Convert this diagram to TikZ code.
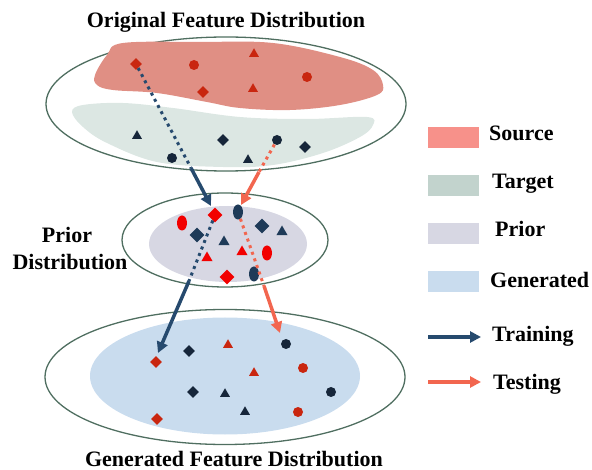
\documentclass[tikz,border=0pt]{standalone}
\usepackage{fontspec}
\setmainfont{Liberation Serif}
\usetikzlibrary{shapes.geometric,arrows.meta}
\definecolor{rimgreen}{HTML}{4F6E60}
\definecolor{srcfill}{HTML}{E08F84}
\definecolor{tgtfill}{HTML}{DCE7E3}
\definecolor{prifill}{HTML}{D7D7E3}
\definecolor{genfill}{HTML}{C9DCEE}
\definecolor{keysrc}{HTML}{F7918A}
\definecolor{keytgt}{HTML}{C2D3CD}
\definecolor{symred}{HTML}{C9260F}
\definecolor{symdark}{HTML}{16263A}
\definecolor{prired}{HTML}{F20000}
\definecolor{pridark}{HTML}{1E3A58}
\definecolor{trainblue}{HTML}{264A6E}
\definecolor{testcoral}{HTML}{F2664F}
\tikzset{
  rim/.style={ellipse, draw=rimgreen, line width=1.3pt, inner sep=0pt},
  pool/.style={ellipse, inner sep=0pt},
  sqd/.style={diamond, fill, inner sep=0pt, minimum size=12pt},
  tri/.style={regular polygon, regular polygon sides=3, fill, inner sep=0pt, minimum size=11.5pt},
  cir/.style={circle, fill, inner sep=0pt, minimum size=10pt},
  egg/.style={ellipse, fill, inner sep=0pt, minimum width=10pt, minimum height=15pt},
  swatch/.style={rectangle, inner sep=0pt, minimum width=51pt, minimum height=21pt},
  lbl/.style={font=\fontsize{22}{25}\selectfont\bfseries, inner sep=0pt, anchor=base},
  keytxt/.style={lbl, anchor=base west},
  flow/.style={line width=3.5pt, -{Triangle[length=11pt,width=11pt]}},
  trail/.style={line width=3pt, dash pattern=on 3pt off 4pt},
}
\begin{document}
\begin{tikzpicture}[x=1pt,y=-1pt]
\useasboundingbox (0,0) rectangle (592,470);
% distributions
\node[rim, minimum width=360pt, minimum height=134pt] (origell) at (226,104){};
\node[rim, minimum width=206pt, minimum height=94pt] (priell) at (225,240){};
\node[pool, fill=prifill, minimum width=158pt, minimum height=76pt] (pripool) at (228,244){};
\node[rim, minimum width=360pt, minimum height=135pt] (genell) at (225,377){};
\node[pool, fill=genfill, minimum width=270pt, minimum height=117pt] (genpool) at (225,376){};
\fill[srcfill] plot[smooth cycle, tension=0.6] coordinates {(95,75) (107,55) (123,43) (200,42) (273,43) (340,57) (373,70) (383,85) (377,95) (340,105) (290,110) (240,108) (207,102) (157,93) (113,90) (97,85)};
\fill[tgtfill] plot[smooth cycle, tension=0.6] coordinates {(72,112) (83,105) (123,103) (173,108) (240,117) (307,119) (367,117) (373,125) (360,137) (323,153) (273,165) (223,167) (157,162) (107,143) (83,127)};
% source / target features
\node[sqd, symred] (s1) at (136,64){};
\node[cir, symred] (s2) at (194,65){};
\node[tri, symred] (s3) at (254,54){};
\node[cir, symred] (s4) at (307,77){};
\node[sqd, symred] (s5) at (203,92){};
\node[tri, symred] (s6) at (253,89){};
\node[tri, symdark] (t1) at (137,136){};
\node[sqd, symdark] (t2) at (223,140){};
\node[cir, symdark] (t3) at (277,140){};
\node[sqd, symdark] (t4) at (305,147){};
\node[cir, symdark] (t5) at (172,158){};
\node[tri, symdark] (t6) at (248,160){};
% prior features
\node[sqd, prired, minimum size=15pt] (p1) at (215,215){};
\node[egg, pridark] (p2) at (238,212){};
\node[egg, prired] (p3) at (182,223){};
\node[sqd, pridark, minimum size=15pt] (p4) at (197,235){};
\node[sqd, pridark, minimum size=15pt] (p5) at (262,226){};
\node[tri, pridark, minimum size=13pt] (p6) at (282,232){};
\node[tri, pridark, minimum size=13pt] (p7) at (224,242){};
\node[tri, prired, minimum size=13pt] (p8) at (207,258){};
\node[tri, prired, minimum size=13pt] (p9) at (242,252){};
\node[egg, prired] (p10) at (267,253){};
\node[sqd, prired, minimum size=15pt] (p11) at (227,277){};
\node[egg, pridark] (p12) at (254,274){};
% generated features
\node[sqd, symred] (g1) at (156,362){};
\node[sqd, symdark] (g2) at (189,351){};
\node[tri, symred] (g3) at (228,345){};
\node[cir, symdark] (g4) at (286,344){};
\node[cir, symred] (g5) at (303,368){};
\node[tri, symred] (g6) at (254,373){};
\node[sqd, symdark] (g7) at (193,392){};
\node[tri, symdark] (g8) at (225,394){};
\node[cir, symdark] (g9) at (331,392){};
\node[tri, symdark] (g10) at (245,412){};
\node[cir, symred] (g11) at (298,412){};
\node[sqd, symred] (g12) at (157,419){};
% training and testing paths
\coordinate (trA) at (191,168);
\coordinate (trB) at (211,206);
\coordinate (trC) at (189,281);
\coordinate (trD) at (158,353);
\coordinate (teA) at (259,172);
\coordinate (teB) at (241,205);
\coordinate (teC) at (264,286);
\coordinate (teD) at (280,333);
\draw[trail, trainblue] (s1) -- (trA);
\draw[flow, trainblue] (trA) -- (trB);
\draw[trail, trainblue] (p1) -- (trC);
\draw[flow, trainblue] (trC) -- (trD);
\draw[trail, testcoral] (t3) -- (teA);
\draw[flow, testcoral] (teA) -- (teB);
\draw[trail, testcoral] (p2) -- (teC);
\draw[flow, testcoral] (teC) -- (teD);
% titles
\node[lbl] (origttl) at (226,28) {Original Feature Distribution};
\node[lbl] (prittl1) at (67,243) {Prior};
\node[lbl] (prittl2) at (70,270) {Distribution};
\node[lbl] (genttl) at (234,466) {Generated Feature Distribution};
% legend
\node[swatch, fill=keysrc] (keys) at (453.5,137.5){};
\node[swatch, fill=keytgt] (keyt) at (453.5,185.5){};
\node[swatch, fill=prifill] (keyp) at (453.5,233.5){};
\node[swatch, fill=genfill] (keyg) at (453.5,281.5){};
\coordinate (keytrL) at (428,337);
\coordinate (keytrR) at (481,337);
\coordinate (keyteL) at (428,382);
\coordinate (keyteR) at (481,382);
\draw[flow, trainblue] (keytrL) -- (keytrR);
\draw[flow, testcoral] (keyteL) -- (keyteR);
\node[keytxt] (keystxt) at (489,141) {Source};
\node[keytxt] (keyttxt) at (492,189) {Target};
\node[keytxt] (keyptxt) at (495,237) {Prior};
\node[keytxt] (keygtxt) at (490,288) {Generated};
\node[keytxt] (keytrtxt) at (492,342) {Training};
\node[keytxt] (keytetxt) at (493,390) {Testing};
\end{tikzpicture}
\end{document}
